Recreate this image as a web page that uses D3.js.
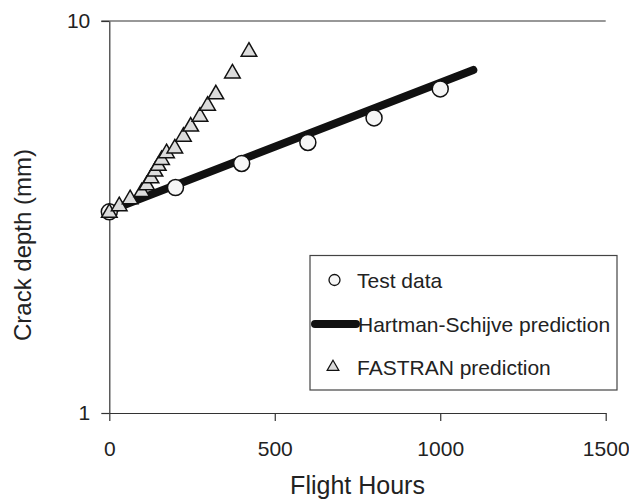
<!DOCTYPE html>
<html><head><meta charset="utf-8">
<script src="https://cdn.jsdelivr.net/npm/d3@7"></script>
<style>
body{margin:0;background:#fff;}
text{font-family:"Liberation Sans",Arial,sans-serif;fill:#222;}
</style></head>
<body>
<svg id="chart" width="629" height="499"></svg>
<script>
const testHours=[0,200,400,600,800,1000];
const testDepth=[3.26,3.76,4.33,4.90,5.66,6.71];
const hsHours=[0,1100];
const hsDepth=[3.28,7.5];
const fastranHours=[0,30,63,98,113,126,138,148,158,173,198,224,246,274,297,322,372,422];
const fastranDepth=[3.24,3.37,3.51,3.66,3.81,3.97,4.13,4.27,4.42,4.60,4.73,5.07,5.38,5.70,6.08,6.50,7.35,8.35];
const xTicks=[0,500,1000,1500];
const yTicks=[1,10];
const legendLabels=["Test data","Hartman-Schijve prediction","FASTRAN prediction"];

const svg=d3.select("#chart");
const x=d3.scaleLinear().domain([0,1500]).range([109.3,605.7]);
const y=d3.scaleLog().domain([1,10]).range([413,21]);

// axes
const xa=svg.append("g").attr("transform","translate(0,413)")
  .call(d3.axisBottom(x).tickValues(xTicks).tickSize(8).tickSizeOuter(0).tickPadding(20).tickFormat(d3.format("d")));
const ya=svg.append("g").attr("transform","translate(109.3,0)")
  .call(d3.axisLeft(y).tickValues(yTicks).tickSize(8).tickSizeOuter(0).tickPadding(11).tickFormat(d3.format("d")));
[xa,ya].forEach(a=>{
  a.selectAll("path,line").attr("stroke","#333").attr("stroke-width",1.2);
  a.selectAll("text").attr("font-size",21).attr("fill","#222").style("font-family","'Liberation Sans',Arial,sans-serif");
});
// top border
svg.append("line").attr("x1",x(0)-8).attr("x2",x(1500)).attr("y1",y(10)).attr("y2",y(10))
  .attr("stroke","#333").attr("stroke-width",1.2);

// axis titles
svg.append("text").attr("x",(x(0)+x(1500))/2).attr("y",494).attr("text-anchor","middle")
  .attr("font-size",25).text("Flight Hours");
svg.append("text").attr("transform","translate(31,245) rotate(-90)").attr("text-anchor","middle")
  .attr("font-size",24).text("Crack depth (mm)");

// Hartman-Schijve line
const line=d3.line().x(d=>x(d[0])).y(d=>y(d[1]));
svg.append("path").datum(hsHours.map((h,i)=>[h,hsDepth[i]]))
  .attr("d",line).attr("fill","none").attr("stroke","#111").attr("stroke-width",8).attr("stroke-linecap","round");

// test data
svg.append("g").selectAll("circle").data(testHours).join("circle")
  .attr("cx",d=>x(d)).attr("cy",(d,i)=>y(testDepth[i])).attr("r",8)
  .attr("fill","#f6f6f6").attr("stroke","#111").attr("stroke-width",1.5);

// FASTRAN
const tri=d3.symbol().type(d3.symbolTriangle).size(105);
svg.append("g").selectAll("path").data(fastranHours).join("path")
  .attr("d",tri).attr("transform",(d,i)=>`translate(${x(d)},${y(fastranDepth[i])})`)
  .attr("fill","#dcdcdc").attr("stroke","#111").attr("stroke-width",1.5);

// legend
const lg=svg.append("g");
lg.append("rect").attr("x",310).attr("y",255.5).attr("width",307).attr("height",134.5)
  .attr("fill","#fff").attr("stroke","#444").attr("stroke-width",1.2);
lg.append("circle").attr("cx",334.5).attr("cy",280).attr("r",5.5)
  .attr("fill","#f6f6f6").attr("stroke","#111").attr("stroke-width",1.3);
lg.append("line").attr("x1",315).attr("x2",356).attr("y1",324).attr("y2",324)
  .attr("stroke","#111").attr("stroke-width",8).attr("stroke-linecap","round");
lg.append("path").attr("d",d3.symbol().type(d3.symbolTriangle).size(60)).attr("transform","translate(333,367)")
  .attr("fill","#dcdcdc").attr("stroke","#111").attr("stroke-width",1.2);
const ly=[280,324,367], lx=[357,358,357];
lg.selectAll("text.l").data(legendLabels).join("text").attr("class","l")
  .attr("x",(d,i)=>lx[i]).attr("y",(d,i)=>ly[i]).attr("dy","0.36em").attr("font-size",21).text(d=>d);
</script>
</body></html>
